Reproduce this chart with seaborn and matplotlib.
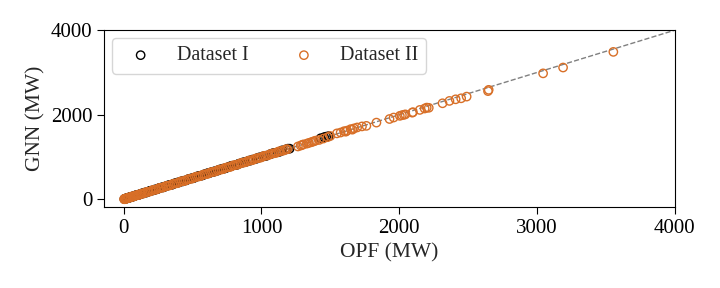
import numpy as np
import pandas as pd
import seaborn as sns
import matplotlib
matplotlib.use('Agg')
import matplotlib.pyplot as plt

# Dataset I (black): OPF vs GNN output, MW
opf_1 = [5, 10, 15, 22, 28, 35, 42, 50, 58, 66, 75, 84, 95, 106, 118, 130, 142, 155, 170, 184, 198, 212,
         228, 245, 262, 278, 295, 312, 330, 348, 365, 382, 400, 418, 436, 455, 474, 492, 510, 528, 548,
         566, 585, 604, 622, 640, 660, 680, 700, 720, 742, 765, 788, 812, 836, 860, 884, 908, 935, 960,
         985, 1010, 1038, 1065, 1092, 1120, 1150, 1178, 1205, 1430, 1470, 1488,
         18, 32, 46, 62, 88, 112, 136, 164, 192, 222, 252, 286, 322, 356, 392, 428, 466, 502, 540,
         576, 612, 652, 690, 732, 776, 824, 872, 920, 972, 1024, 1078, 1136, 1192, 1455]
gnn_1 = [8, 14, 12, 25, 34, 40, 38, 55, 62, 70, 72, 90, 98, 104, 124, 135, 140, 162, 168, 190, 205, 210,
         235, 240, 270, 285, 292, 318, 336, 345, 372, 390, 398, 425, 440, 450, 480, 498, 505, 535, 552,
         560, 592, 610, 618, 648, 665, 676, 708, 725, 738, 772, 795, 808, 842, 866, 880, 915, 940, 955,
         992, 1015, 1032, 1070, 1098, 1115, 1158, 1180, 1198, 1445, 1482, 1495,
         22, 30, 52, 58, 94, 108, 142, 160, 198, 218, 258, 282, 328, 352, 398, 424, 472, 498, 546,
         572, 618, 648, 696, 728, 782, 820, 878, 916, 978, 1020, 1084, 1130, 1198, 1470]

# Dataset II (orange)
opf_2 = [3, 8, 14, 20, 30, 40, 52, 65, 80, 96, 112, 130, 150, 172, 195, 218, 240, 265, 290, 315, 340,
         368, 395, 420, 448, 475, 502, 530, 558, 585, 612, 640, 668, 695, 722, 750, 778, 805, 832, 860,
         888, 915, 942, 970, 998, 1025, 1052, 1080, 1108, 1135, 1165, 1190, 1265, 1285, 1305, 1330,
         1360, 1382, 1395, 1420, 1450, 1480, 1500, 1548, 1575, 1600, 1622, 1648, 1672, 1695, 1730,
         1762, 1835, 1930, 1960, 2005, 2020, 2035, 2045, 2095, 2100, 2150, 2185, 2200, 2215, 2315,
         2365, 2410, 2450, 2490, 2645, 2650, 3045, 3190, 3555,
         6, 12, 24, 36, 48, 60, 72, 88, 104, 122, 140, 160, 182, 206, 230, 254, 278, 304, 328, 354,
         382, 408, 434, 462, 490, 516, 544, 572, 598, 626, 654, 682, 710, 736, 764, 792, 820, 846,
         874, 902, 928, 956, 984, 1012, 1040, 1066, 1094, 1122, 1150, 1178, 1295, 1345, 1372, 1612,
         1660]
gnn_2 = [5, 12, 10, 24, 28, 45, 50, 70, 76, 100, 108, 135, 148, 178, 190, 224, 236, 272, 286, 320, 335,
         372, 390, 428, 442, 480, 498, 536, 552, 590, 606, 646, 662, 700, 716, 756, 772, 810, 826, 866,
         882, 920, 936, 975, 990, 1030, 1046, 1085, 1100, 1140, 1158, 1185, 1250, 1272, 1300, 1318,
         1350, 1375, 1390, 1405, 1438, 1470, 1498, 1560, 1580, 1612, 1625, 1660, 1678, 1700, 1725,
         1738, 1815, 1900, 1935, 1975, 1990, 2000, 2010, 2050, 2062, 2115, 2148, 2170, 2165, 2272,
         2328, 2366, 2390, 2430, 2560, 2590, 2980, 3118, 3488,
         2, 18, 20, 40, 44, 66, 68, 92, 100, 128, 136, 166, 178, 212, 226, 260, 274, 310, 324, 360,
         378, 414, 430, 468, 486, 522, 540, 578, 594, 632, 650, 688, 706, 742, 760, 798, 816, 852,
         870, 908, 924, 962, 980, 1018, 1036, 1072, 1090, 1128, 1146, 1184, 1285, 1335, 1362, 1600,
         1648]

df1 = pd.DataFrame({'OPF': opf_1, 'GNN': gnn_1})
df2 = pd.DataFrame({'OPF': opf_2, 'GNN': gnn_2})

sns.set_style('ticks')
plt.rcParams['font.family'] = ['Liberation Serif', 'DejaVu Serif']
plt.rcParams['mathtext.fontset'] = 'stix'

fig, ax = plt.subplots(figsize=(7.2, 2.88), dpi=100)

ax.plot([0, 4000], [0, 4000], linestyle='--', color='gray', linewidth=1, zorder=1)
sns.scatterplot(x='OPF', y='GNN', data=df1, ax=ax, facecolor='none', edgecolor='black',
                s=36, linewidth=1, label='Dataset I', zorder=2)
sns.scatterplot(x='OPF', y='GNN', data=df2, ax=ax, facecolor='none', edgecolor='#D86F27',
                s=36, linewidth=1, label='Dataset II', zorder=3)

ax.set_xlim(-140, 4000)
ax.set_ylim(-190, 4000)
ax.set_xticks([0, 1000, 2000, 3000, 4000])
ax.set_yticks([0, 2000, 4000])
ax.tick_params(labelsize=15, length=5, width=0.8, colors='black')
for sp in ax.spines.values():
    sp.set_linewidth(0.8)
    sp.set_color('black')
ax.set_xlabel('OPF (MW)', fontsize=15.5)
ax.set_ylabel('GNN (MW)', fontsize=15.5)

ax.legend(loc='upper left', ncol=2, fontsize=14.5, handletextpad=0.8, columnspacing=1.75,
          frameon=True, fancybox=True, borderaxespad=0.4)

fig.subplots_adjust(left=0.145, right=0.937, top=0.895, bottom=0.28)
fig.savefig('out.png', dpi=100)
